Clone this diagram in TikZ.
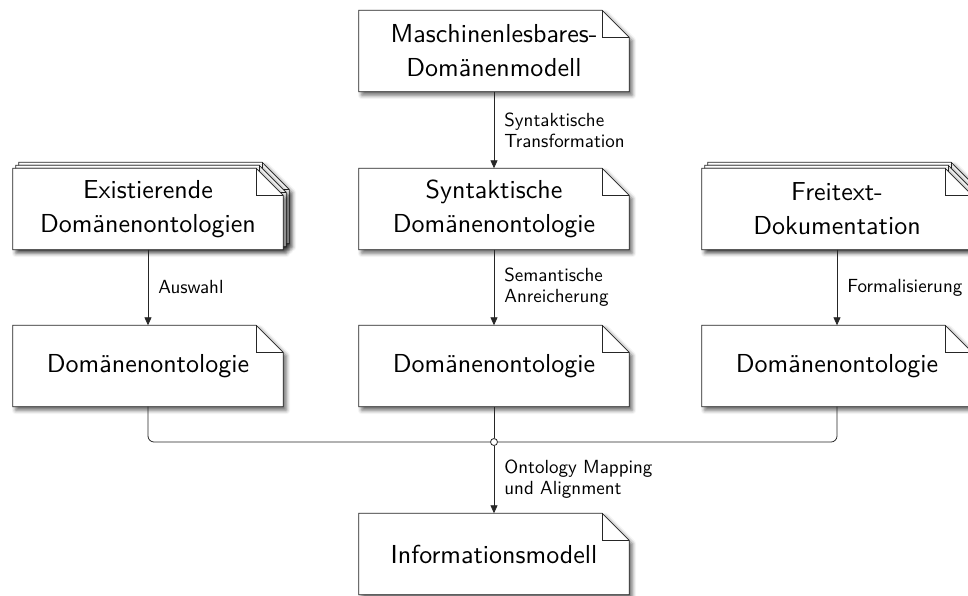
\documentclass[tikz,border=0pt]{standalone}
\usetikzlibrary{calc,shadows.blur,arrows.meta}

% Latin Modern Sans, 10pt design size, scaled up
\font\docfont="[lmsans10-regular]:mapping=tex-text" at 26pt
\font\lblfont="[lmsans10-regular]:mapping=tex-text" at 19pt

\pgfdeclarelayer{sheets}
\pgfsetlayers{sheets,main}

\def\fold{27}

\tikzset{
  docnode/.style={minimum width=270pt, minimum height=81pt, inner sep=0pt,
    align=center, font=\fontsize{26}{34}\selectfont\docfont},
  docsheet/.style={fill=white, draw=black!85, line width=0.8pt, line join=miter,
    blur shadow={shadow xshift=3pt, shadow yshift=-3.5pt,
      shadow blur radius=4pt, shadow opacity=60}},
  sheetline/.style={draw=black!85, line width=0.8pt},
  flow/.style={draw=black!85, line width=0.8pt,
    -{Triangle[length=8pt,width=7pt]}},
  bus/.style={draw=black!85, line width=0.8pt, rounded corners=6pt},
  lbl/.style={anchor=west, xshift=7pt, inner sep=3pt, align=left,
    font=\fontsize{19}{21}\selectfont\lblfont},
  joint/.style={circle, draw=black!85, line width=0.8pt, fill=white,
    inner sep=0pt, minimum size=7pt}
}

% one sheet of paper with a folded corner, behind node #1,
% moved up and to the right by #2
\newcommand\sheet[2]{%
  \path[docsheet] ($(#1.north west)+(#2,-#2)$)
    -- ($(#1.north east)+(#2-\fold,-#2)$)
    -- ($(#1.north east)+(#2,\fold-#2)$)
    -- ($(#1.south east)+(#2,-#2)$)
    -- ($(#1.south west)+(#2,-#2)$) -- cycle;
  \draw[sheetline] ($(#1.north east)+(#2-\fold,-#2)$)
    |- ($(#1.north east)+(#2,\fold-#2)$);
}

\begin{document}
\begin{tikzpicture}[x=1pt,y=-1pt]
\useasboundingbox (0,0) rectangle (968,595);

% documents
\node[docnode] (mdm)  at (494,51)  {Maschinenlesbares-\\Domänenmodell};
\node[docnode] (exi)  at (148,209) {Existierende\\Domänenontologien};
\node[docnode] (syn)  at (494,209) {Syntaktische\\Domänenontologie};
\node[docnode] (frei) at (837,209) {Freitext-\\Dokumentation};
\node[docnode] (ontL) at (148,366) {Domänenontologie};
\node[docnode] (ontM) at (494,366) {Domänenontologie};
\node[docnode] (ontR) at (837,366) {Domänenontologie};
\node[docnode] (info) at (494,554) {Informationsmodell};

\begin{pgfonlayer}{sheets}
  \sheet{mdm}{0}
  \sheet{exi}{6}\sheet{exi}{3}\sheet{exi}{0}
  \sheet{syn}{0}
  \sheet{frei}{6}\sheet{frei}{3}\sheet{frei}{0}
  \sheet{ontL}{0}
  \sheet{ontM}{0}
  \sheet{ontR}{0}
  \sheet{info}{0}
\end{pgfonlayer}

% transformations
\draw[flow] (mdm) -- node[lbl] {Syntaktische\\Transformation} (syn);
\draw[flow] (exi) -- node[lbl] {Auswahl} (ontL);
\draw[flow] (syn) -- node[lbl] {Semantische\\Anreicherung} (ontM);
\draw[flow] (frei) -- node[lbl] {Formalisierung} (ontR);

% merging the three ontologies
\node[joint] (j) at (494,442) {};
\draw[bus] (ontL.south) |- (j.west);
\draw[bus] (j.east) -| (ontR.south);
\draw[sheetline] (ontM.south) -- (j.north);
\draw[flow] (j.south) -- node[lbl] {Ontology Mapping\\und Alignment} (info.north);
\end{tikzpicture}
\end{document}
